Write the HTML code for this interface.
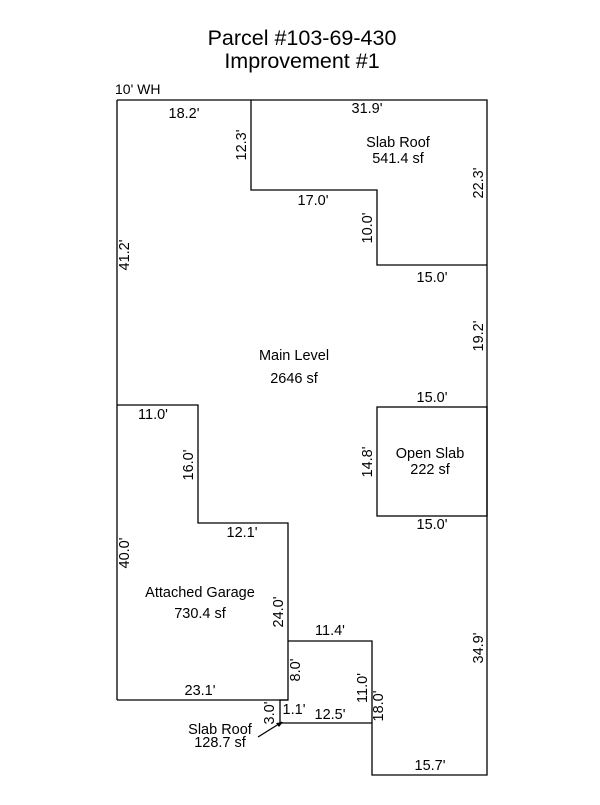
<!DOCTYPE html>
<html><head><style>body{margin:0;background:#fff}</style></head><body>
<svg width="600" height="800" xmlns="http://www.w3.org/2000/svg" font-family="Liberation Sans, Arial, sans-serif" font-size="14.5">
<rect width="600" height="800" fill="#fff"/>
<text x="302" y="45" font-size="21.5" text-anchor="middle">Parcel #103-69-430</text>
<text x="302" y="68" font-size="21.5" text-anchor="middle">Improvement #1</text>
<text x="115" y="94" font-size="14">10' WH</text>
<g fill="none" stroke="#000" stroke-width="1.3">
<polyline points="117,100 487,100 487,775 372,775 372,641 288,641"/>
<polyline points="251,100 251,190 377,190 377,265 487,265"/>
<line x1="117" y1="100" x2="117" y2="700"/>
<rect x="377" y="407" width="110" height="109"/>
<polyline points="117,405 198,405 198,523 288,523 288,700 117,700"/>
<polyline points="288,700 280,700 280,723 372,723"/>
<line x1="258" y1="737" x2="282" y2="722"/>
</g>
<polygon points="283,722 276,723 279,727" fill="#000"/>
<g text-anchor="middle">
<text x="184" y="118">18.2'</text>
<text x="367" y="113">31.9'</text>
<text x="398" y="147">Slab Roof</text>
<text x="398" y="163">541.4 sf</text>
<text x="313" y="205">17.0'</text>
<text x="432" y="282">15.0'</text>
<text x="294" y="360">Main Level</text>
<text x="294" y="383">2646 sf</text>
<text x="432" y="402">15.0'</text>
<text x="430" y="458">Open Slab</text>
<text x="430" y="474">222 sf</text>
<text x="432" y="529">15.0'</text>
<text x="153" y="419">11.0'</text>
<text x="242" y="537">12.1'</text>
<text x="200" y="597">Attached Garage</text>
<text x="200" y="618">730.4 sf</text>
<text x="330" y="635">11.4'</text>
<text x="200" y="695">23.1'</text>
<text x="294" y="714">1.1'</text>
<text x="330" y="719">12.5'</text>
<text x="220" y="734">Slab Roof</text>
<text x="220" y="747">128.7 sf</text>
<text x="430" y="770">15.7'</text>
</g>
<g text-anchor="middle">
<text transform="translate(246,145) rotate(-90)">12.3'</text>
<text transform="translate(483,183) rotate(-90)">22.3'</text>
<text transform="translate(372,228) rotate(-90)">10.0'</text>
<text transform="translate(129,255) rotate(-90)">41.2'</text>
<text transform="translate(483,336) rotate(-90)">19.2'</text>
<text transform="translate(372,462) rotate(-90)">14.8'</text>
<text transform="translate(193,465) rotate(-90)">16.0'</text>
<text transform="translate(129,553) rotate(-90)">40.0'</text>
<text transform="translate(283,612) rotate(-90)">24.0'</text>
<text transform="translate(483,648) rotate(-90)">34.9'</text>
<text transform="translate(300,670) rotate(-90)">8.0'</text>
<text transform="translate(367,688) rotate(-90)">11.0'</text>
<text transform="translate(383,706) rotate(-90)">18.0'</text>
<text transform="translate(274,713) rotate(-90)">3.0'</text>
</g>
</svg>
</body></html>
